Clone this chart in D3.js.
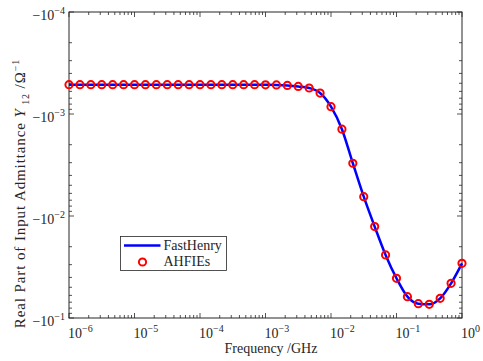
<!DOCTYPE html>
<html>
<head>
<meta charset="utf-8">
<script src="https://cdn.jsdelivr.net/npm/d3@7"></script>
<style>
  body { margin: 0; background: #fff; }
  svg text { font-family: "Liberation Serif", "Times New Roman", serif; fill: #262626; }
</style>
</head>
<body>
<svg id="chart" width="483" height="361"></svg>
<script>
// frequency points (GHz), 6 per decade
var freq = [1e-6, 1.468e-6, 2.154e-6, 3.162e-6, 4.642e-6, 6.813e-6,
            1e-5, 1.468e-5, 2.154e-5, 3.162e-5, 4.642e-5, 6.813e-5,
            1e-4, 1.468e-4, 2.154e-4, 3.162e-4, 4.642e-4, 6.813e-4,
            1e-3, 1.468e-3, 2.154e-3, 3.162e-3, 4.642e-3, 6.813e-3,
            1e-2, 1.468e-2, 2.154e-2, 3.162e-2, 4.642e-2, 6.813e-2,
            1e-1, 1.468e-1, 2.154e-1, 3.162e-1, 4.642e-1, 6.813e-1, 1];

// real part of Y12 (1/ohm)
var fastHenry = [-5.16e-4, -5.16e-4, -5.16e-4, -5.16e-4, -5.16e-4, -5.16e-4,
                 -5.16e-4, -5.16e-4, -5.16e-4, -5.16e-4, -5.16e-4, -5.16e-4,
                 -5.16e-4, -5.16e-4, -5.16e-4, -5.16e-4, -5.16e-4, -5.16e-4,
                 -5.17e-4, -5.19e-4, -5.25e-4, -5.37e-4, -5.56e-4, -6.23e-4,
                 -8.48e-4, -1.41e-3, -3.04e-3, -6.47e-3, -1.27e-2, -2.41e-2,
                 -4.08e-2, -6.18e-2, -7.24e-2, -7.34e-2, -6.41e-2, -4.57e-2, -2.91e-2];
var ahfies = [-5.16e-4, -5.16e-4, -5.16e-4, -5.16e-4, -5.16e-4, -5.16e-4,
              -5.16e-4, -5.16e-4, -5.16e-4, -5.16e-4, -5.16e-4, -5.16e-4,
              -5.16e-4, -5.16e-4, -5.16e-4, -5.16e-4, -5.16e-4, -5.16e-4,
              -5.17e-4, -5.19e-4, -5.25e-4, -5.37e-4, -5.56e-4, -6.23e-4,
              -8.48e-4, -1.41e-3, -3.04e-3, -6.47e-3, -1.27e-2, -2.41e-2,
              -4.08e-2, -6.18e-2, -7.24e-2, -7.34e-2, -6.41e-2, -4.57e-2, -2.91e-2];

var xExps = [-6, -5, -4, -3, -2, -1, 0];
var yExps = [-4, -3, -2, -1];
var legendNames = ["FastHenry", "AHFIEs"];

var svg = d3.select("#chart");
// note: "top" is reserved on window, so use pl/pr/pt/pb
var pl = 69, pr = 462, pt = 12, pb = 318;

var x = d3.scaleLog().domain([1e-6, 1]).range([pl, pr]);
var y = d3.scaleLog().domain([-1e-4, -1e-1]).range([pt, pb]);

var axisColor = "#262626";

// minor + major ticks
var xTicks = [];
xExps.forEach(function(e, i) {
  for (var m = 1; m <= 9; m++) {
    if (i === xExps.length - 1 && m > 1) break;
    xTicks.push({v: m * Math.pow(10, e), major: m === 1});
  }
});
var yTicks = [];
yExps.forEach(function(e, i) {
  for (var m = 1; m <= 9; m++) {
    if (i === yExps.length - 1 && m > 1) break;
    yTicks.push({v: -m * Math.pow(10, e), major: m === 1});
  }
});

var tk = svg.append("g").attr("stroke", axisColor).attr("stroke-width", 0.8);
tk.selectAll(".xb").data(xTicks).enter().append("line")
  .attr("x1", function(d) { return x(d.v); }).attr("x2", function(d) { return x(d.v); })
  .attr("y1", pb).attr("y2", function(d) { return pb - (d.major ? 5 : 3); });
tk.selectAll(".xt").data(xTicks).enter().append("line")
  .attr("x1", function(d) { return x(d.v); }).attr("x2", function(d) { return x(d.v); })
  .attr("y1", pt).attr("y2", function(d) { return pt + (d.major ? 5 : 3); });
tk.selectAll(".yl").data(yTicks).enter().append("line")
  .attr("y1", function(d) { return y(d.v); }).attr("y2", function(d) { return y(d.v); })
  .attr("x1", pl).attr("x2", function(d) { return pl + (d.major ? 5 : 3); });
tk.selectAll(".yr").data(yTicks).enter().append("line")
  .attr("y1", function(d) { return y(d.v); }).attr("y2", function(d) { return y(d.v); })
  .attr("x1", pr).attr("x2", function(d) { return pr - (d.major ? 5 : 3); });

// box
svg.append("rect")
  .attr("x", pl).attr("y", pt)
  .attr("width", pr - pl).attr("height", pb - pt)
  .attr("fill", "none").attr("stroke", axisColor).attr("stroke-width", 1);

// x tick labels
var xl = svg.append("g").selectAll("text").data(xExps).enter().append("text")
  .attr("x", function(e) { return x(Math.pow(10, e)) - 1; })
  .attr("y", 337.5)
  .style("font-size", "14px");
xl.append("tspan").text("10");
xl.append("tspan").attr("dy", -6).style("font-size", "10px")
  .text(function(e) { return e < 0 ? "\u2212" + (-e) : e; });

// y tick labels
var yl = svg.append("g").selectAll("text").data(yExps).enter().append("text")
  .attr("x", 65)
  .attr("y", function(e) { return y(-Math.pow(10, e)) + 8; })
  .attr("text-anchor", "end")
  .style("font-size", "14px");
yl.append("tspan").text("\u221210");
yl.append("tspan").attr("dy", -6).style("font-size", "10px")
  .text(function(e) { return "\u2212" + (-e); });

// axis titles
svg.append("text")
  .attr("x", 271).attr("y", 353)
  .attr("text-anchor", "middle")
  .style("font-size", "14px")
  .text("Frequency /GHz");

var yt = svg.append("text")
  .attr("transform", "translate(25,193.5) rotate(-90)")
  .attr("text-anchor", "middle")
  .style("font-size", "15px")
  .style("letter-spacing", "0.9px");
yt.append("tspan").text("Real Part of Input Admittance ");
yt.append("tspan").style("font-style", "italic").text("Y");
yt.append("tspan").attr("dy", 4).style("font-size", "10px").text(" 12");
yt.append("tspan").attr("dy", -4).text(" /\u03A9");
yt.append("tspan").attr("dy", -6).style("font-size", "10px").text("\u22121");

// FastHenry line
var line = d3.line()
  .x(function(d, i) { return x(freq[i]); })
  .y(function(d) { return y(d); })
  .curve(d3.curveMonotoneX);

svg.append("path")
  .datum(fastHenry)
  .attr("d", line)
  .attr("fill", "none")
  .attr("stroke", "#0000ff")
  .attr("stroke-width", 2.5);

// AHFIEs markers
svg.append("g").selectAll("circle").data(ahfies).enter().append("circle")
  .attr("cx", function(d, i) { return x(freq[i]); })
  .attr("cy", function(d) { return y(d); })
  .attr("r", 3.6)
  .attr("fill", "none")
  .attr("stroke", "#ff0000")
  .attr("stroke-width", 2);

// legend
var lg = svg.append("g");
lg.append("rect")
  .attr("x", 120.5).attr("y", 236.5).attr("width", 106).attr("height", 34)
  .attr("fill", "#fff").attr("stroke", "#262626").attr("stroke-width", 0.8);
lg.append("line")
  .attr("x1", 124).attr("x2", 160.5).attr("y1", 245.5).attr("y2", 245.5)
  .attr("stroke", "#0000ff").attr("stroke-width", 2.5);
lg.append("circle")
  .attr("cx", 142.5).attr("cy", 262).attr("r", 3.6)
  .attr("fill", "none").attr("stroke", "#ff0000").attr("stroke-width", 2);
lg.selectAll("text").data(legendNames).enter().append("text")
  .attr("x", 163.5)
  .attr("y", function(d, i) { return i === 0 ? 249.8 : 265.5; })
  .style("font-size", "14px")
  .text(function(d) { return d; });
</script>
</body>
</html>
